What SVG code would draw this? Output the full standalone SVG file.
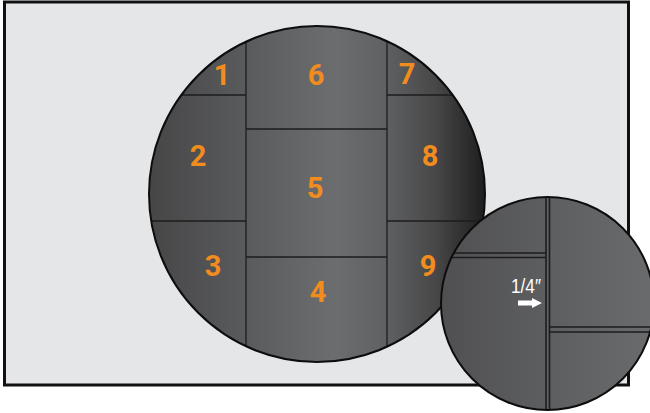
<svg xmlns="http://www.w3.org/2000/svg" width="650" height="413" viewBox="0 0 650 413">
<style>
.n{font-family:"Roboto","Liberation Sans",sans-serif;font-weight:700;font-size:29px;fill:#f28c1e;text-anchor:middle}
.l{stroke:#1c1c1d;fill:none;stroke-width:1.3}
.d{stroke:#1c1c1d;fill:none;stroke-width:1.6}
</style>
<defs>
<linearGradient id="g" gradientUnits="userSpaceOnUse" x1="149" y1="0" x2="485" y2="0">
<stop offset="0" stop-color="#464647"/><stop offset=".28" stop-color="#595a5c"/><stop offset=".55" stop-color="#6c6d6f"/><stop offset=".7" stop-color="#606163"/><stop offset=".85" stop-color="#484849"/><stop offset="1" stop-color="#1e1e1f"/>
</linearGradient>
<linearGradient id="g2" gradientUnits="userSpaceOnUse" x1="441" y1="0" x2="654" y2="0">
<stop offset="0" stop-color="#505052"/><stop offset=".5" stop-color="#5d5e60"/><stop offset="1" stop-color="#6a6b6d"/>
</linearGradient>
<clipPath id="c1"><circle cx="317" cy="194" r="168"/></clipPath>
<clipPath id="c2"><circle cx="547.5" cy="303.5" r="106.5"/></clipPath>
</defs>
<rect id="panel" x="4.5" y="2" width="624" height="383" fill="#e5e6e8" stroke="#111112" stroke-width="3"/>
<g id="wall">
<circle cx="317" cy="194" r="168" fill="url(#g)"/>
<g clip-path="url(#c1)" class="l">
<path d="M246 20V370M387 20V370M140 95H246M387 95H490M140 221H246M387 221H490M246 129H387M246 257H387"/>
</g>
<circle cx="317" cy="194" r="168" fill="none" stroke="#0d0d0e" stroke-width="2"/>
<g id="numbers">
<text class="n" x="222" y="85">1</text>
<text class="n" x="198" y="166">2</text>
<text class="n" x="213" y="276">3</text>
<text class="n" x="318" y="302">4</text>
<text class="n" x="315" y="198">5</text>
<text class="n" x="316" y="85">6</text>
<text class="n" x="407" y="84">7</text>
<text class="n" x="430" y="166">8</text>
<text class="n" x="428" y="276">9</text>
</g>
</g>
<g id="detail">
<circle cx="547.5" cy="303.5" r="106.5" fill="url(#g2)"/>
<g clip-path="url(#c2)" class="d">
<path d="M430 253H546M430 257.500H546M549.500 327H660M549.500 332H660M546 190V415M549.500 190V415"/>
</g>
<circle cx="547.5" cy="303.5" r="106.5" fill="none" stroke="#0d0d0e" stroke-width="2"/>
<text x="526" y="293" font-family="'Liberation Sans',sans-serif" font-size="21" fill="#fff" text-anchor="middle" textLength="30" lengthAdjust="spacingAndGlyphs">1/4″</text>
<path d="M518 300.500H532V298L542 303L532 308V305.500H518Z" fill="#fff"/>
</g>
</svg>
